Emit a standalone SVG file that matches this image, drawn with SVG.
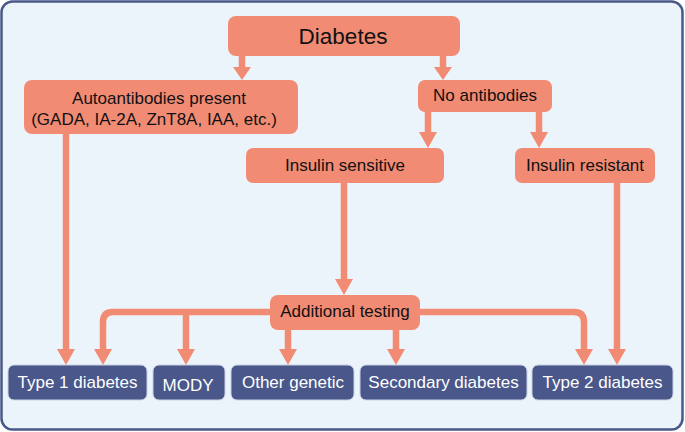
<svg xmlns="http://www.w3.org/2000/svg" width="685" height="432" viewBox="0 0 685 432">
<style>
.frame{fill:#ecf4fb;stroke:#4a5888;stroke-width:2.5}
.sal{fill:#f28b74}
.blue{fill:#49578a;stroke:#c9d1e3;stroke-width:1}
.tb{font-family:"Liberation Sans",Arial,sans-serif;font-size:17px;fill:#111;text-anchor:middle}
.tw{font-family:"Liberation Sans",Arial,sans-serif;font-size:17px;fill:#fff;text-anchor:middle}
.con{fill:none;stroke:#f28b74;stroke-width:6.5;marker-end:url(#ah)}
.cons{fill:none;stroke:#f28b74;stroke-width:6.5;marker-end:url(#ahs)}
</style>
<defs>
<marker id="ah" markerUnits="userSpaceOnUse" viewBox="0 0 16 18" markerWidth="16" markerHeight="18" refX="4" refY="9" orient="auto">
<path d="M0,0 L16,9 L0,18 Z" fill="#f28b74"/>
</marker>
<marker id="ahs" markerUnits="userSpaceOnUse" viewBox="0 0 13 18" markerWidth="13" markerHeight="18" refX="3" refY="9" orient="auto">
<path d="M0,0 L13,9 L0,18 Z" fill="#f28b74"/>
</marker>
</defs>
<rect class="frame" x="1.5" y="1.5" width="681" height="428" rx="11"/>
<g id="connectors">
<path class="cons" d="M242,56 V70"/>
<path class="cons" d="M443,56 V70"/>
<path class="con" d="M428,112 V136"/>
<path class="con" d="M539,112 V136"/>
<path class="con" d="M66,134 V353"/>
<path class="con" d="M344,183 V283"/>
<path class="con" d="M617,183 V353"/>
<path class="con" d="M272,312 H113 Q103,312 103,322 V353"/>
<path class="con" d="M186,312 V353"/>
<path class="con" d="M288,329 V353"/>
<path class="con" d="M396,329 V353"/>
<path class="con" d="M418,312 H574 Q584,312 584,322 V353"/>
</g>
<g id="diabetes">
<rect class="sal" x="228" y="16" width="232" height="40" rx="8"/>
<text class="tb" x="343" y="44" style="font-size:22.5px">Diabetes</text>
</g>
<g id="autoantibodies">
<rect class="sal" x="24" y="80" width="274" height="54" rx="8"/>
<text class="tb" x="159" y="104">Autoantibodies present</text>
<text class="tb" x="154" y="125">(GADA, IA-2A, ZnT8A, IAA, etc.)</text>
</g>
<g id="no-antibodies">
<rect class="sal" x="418" y="80" width="134" height="32" rx="7"/>
<text class="tb" x="485" y="101">No antibodies</text>
</g>
<g id="insulin-sensitive">
<rect class="sal" x="246" y="148" width="198" height="35" rx="7"/>
<text class="tb" x="345" y="171">Insulin sensitive</text>
</g>
<g id="insulin-resistant">
<rect class="sal" x="515" y="148" width="140" height="35" rx="7"/>
<text class="tb" x="585" y="171">Insulin resistant</text>
</g>
<g id="additional-testing">
<rect class="sal" x="270" y="295" width="150" height="35" rx="8"/>
<text class="tb" x="345" y="317">Additional testing</text>
</g>
<g id="type1">
<rect class="blue" x="8" y="365" width="139" height="35" rx="6"/>
<text class="tw" x="77.5" y="388">Type 1 diabetes</text>
</g>
<g id="mody">
<rect class="blue" x="153" y="365" width="72" height="35" rx="6"/>
<text class="tw" x="188" y="391">MODY</text>
</g>
<g id="other-genetic">
<rect class="blue" x="231" y="365" width="123" height="35" rx="6"/>
<text class="tw" x="293" y="388">Other genetic</text>
</g>
<g id="secondary">
<rect class="blue" x="360" y="365" width="167" height="35" rx="6"/>
<text class="tw" x="443.5" y="388">Secondary diabetes</text>
</g>
<g id="type2">
<rect class="blue" x="532" y="365" width="141" height="35" rx="6"/>
<text class="tw" x="602.5" y="388">Type 2 diabetes</text>
</g>
</svg>
